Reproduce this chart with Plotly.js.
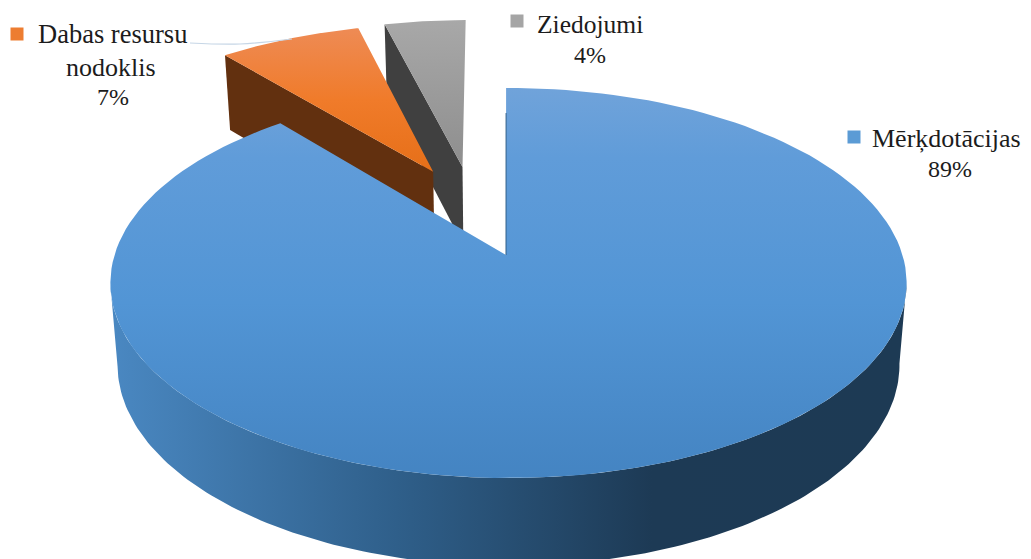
<!DOCTYPE html>
<html>
<head>
<meta charset="utf-8">
<script src="https://cdn.plot.ly/plotly-3.0.1.min.js"></script>
<style>html,body{margin:0;padding:0;background:#fff;overflow:hidden}#chart{width:1031px;height:559px}</style>
</head>
<body>
<div id="chart"></div>
<script>
// Data (clockwise from twelve o'clock)
const categories = ['Mērķdotācijas', 'Dabas resursu nodoklis', 'Ziedojumi'];
const shares = [89, 7, 4];

// Colours
const faceScales = [
  [[0, '#70a3da'], [0.18, '#609cd9'], [0.55, '#5295d5'], [1, '#4484c2']],
  [[0, '#ee8b55'], [0.5, '#f07b2a'], [1, '#e66f18']],
  [[0, '#a8a8a8'], [1, '#8e8e8e']]
];
const wallScale = [[0, '#4a88c2'], [0.36, '#2f5f8a'], [0.68, '#1d3a55'], [1, '#1d3a54']];
const wallColours = ['#1d3a54', '#62300f', '#404040'];
const markerColours = ['#5b9bd5', '#ed7d31', '#a5a5a5'];

// Projection of the tilted disc on the page, in the page's pixel units
const CX = 508.5, CY = 255, A = 191, B = 394, K = 0.1436;
const DEPTH = 81, GROW_Y = 0.0307, SHRINK_X = 0.982, ROTATE = -0.4;
const explode = [[0, 0], [-0.204, 0.465], [-0.125, 0.494]];
const apexNudge = [-2.5, 0, 0];

function project(X, Y, lower) {
  const w = 1 + K * Y;
  const sx = lower ? SHRINK_X : 1, sy = lower ? 1 + GROW_Y : 1;
  return [CX + sx * B * X / w, CY + (lower ? DEPTH : 0) - sy * A * Y / w];
}
const rad = d => (d + ROTATE) * Math.PI / 180;
function rim(i, deg, lower) {
  return project(explode[i][0] + Math.sin(rad(deg)), explode[i][1] + Math.cos(rad(deg)), lower);
}
function apex(i, lower) {
  const p = project(explode[i][0], explode[i][1], lower);
  return [p[0] + apexNudge[i], p[1]];
}

function poly(points, extra) {
  return Object.assign({
    type: 'scatter', mode: 'lines', fill: 'toself',
    x: points.map(p => p[0]), y: points.map(p => p[1]),
    line: {width: 0}, hoverinfo: 'skip', showlegend: false
  }, extra);
}
function arc(i, from, to, lower) {
  const pts = [], n = 160;
  for (let s = 0; s <= n; s++) pts.push(rim(i, from + (to - from) * s / n, lower));
  return pts;
}

const total = shares.reduce((a, b) => a + b, 0);
let running = 0;
const spans = shares.map(v => { const s = [running, running + v / total * 360]; running = s[1]; return s; });

function face(i) {
  const pts = [apex(i, false)].concat(arc(i, spans[i][0], spans[i][1], false));
  pts.push(apex(i, false));
  const ys = pts.map(p => p[1]);
  return poly(pts, {fillgradient: {type: 'vertical', colorscale: faceScales[i],
    start: Math.min(...ys), stop: Math.max(...ys)}});
}
function cutWall(i) {
  const a = spans[i][0];
  return poly([apex(i, false), rim(i, a, false), rim(i, a, true), apex(i, true), apex(i, false)],
    {fillcolor: wallColours[i]});
}

// Visible outer wall of the large slice: between the two silhouette points of the rim
const silhouette = Math.acos(-K) * 180 / Math.PI;
const mainWallPts = arc(0, silhouette, 360 - silhouette, false)
  .concat(arc(0, 360 - silhouette, silhouette, true));
mainWallPts.push(mainWallPts[0]);
const mainWall = poly(mainWallPts, {fillgradient: {type: 'horizontal', colorscale: wallScale,
  start: 110, stop: 907}});

// Thin seam along the first cut of the large slice
const seamTop = rim(0, 0, false), seamEnd = apex(0, false);
const seamStart = [seamEnd[0] + (seamTop[0] - seamEnd[0]) * 0.85, seamEnd[1] + (seamTop[1] - seamEnd[1]) * 0.85];
const seam = {type: 'scatter', mode: 'lines', x: [seamStart[0], seamEnd[0]], y: [seamStart[1], seamEnd[1]],
  line: {color: '#2f5f8a', width: 1}, hoverinfo: 'skip', showlegend: false};

// Leader line of the orange slice's label
const leader = {type: 'scatter', mode: 'lines', x: [190, 240, 292], y: [43, 44, 39],
  line: {color: '#c6d6e6', width: 1.2, shape: 'spline'}, hoverinfo: 'skip', showlegend: false};

// Legend keys next to the labels
const keys = {type: 'scatter', mode: 'markers', x: [854, 17, 517], y: [137, 34, 21],
  marker: {symbol: 'square', size: 13, color: markerColours, line: {width: 0}},
  hoverinfo: 'skip', showlegend: false};

function label(text, x, y, size) {
  return {text: text, x: x, y: y, xref: 'x', yref: 'y', showarrow: false,
    xanchor: 'center', yanchor: 'middle',
    font: {family: '"Liberation Serif", serif', size: size, color: '#1c1c1c'}};
}
const pct = i => Math.round(shares[i] / total * 100) + '%';
const annotations = [
  label(categories[0], 946.5, 138, 26), label(pct(0), 950, 169, 24),
  label('Dabas resursu', 112.5, 34, 26.5), label('nodoklis', 111, 67, 26), label(pct(1), 113, 97, 24),
  label(categories[2], 589.5, 24, 25.5), label(pct(2), 590, 55, 24)
];

const traces = [cutWall(2), face(2), cutWall(1), face(1), leader, mainWall, face(0), seam, keys];

Plotly.newPlot('chart', traces, {
  width: 1031, height: 559,
  margin: {l: 0, r: 0, t: 0, b: 0},
  paper_bgcolor: '#fff', plot_bgcolor: '#fff',
  xaxis: {range: [0, 1031], visible: false, fixedrange: true},
  yaxis: {range: [559, 0], visible: false, fixedrange: true},
  showlegend: false, annotations: annotations
}, {displayModeBar: false, staticPlot: true});
</script>
</body>
</html>
